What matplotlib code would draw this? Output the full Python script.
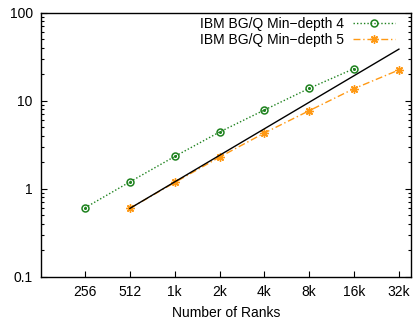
import numpy as np
import matplotlib
matplotlib.use('Agg')
import matplotlib.pyplot as plt
from matplotlib.ticker import FixedLocator, LogLocator, NullFormatter

plt.rcParams['font.family'] = ['Liberation Sans', 'DejaVu Sans']
plt.rcParams['font.size'] = 10

ranks = [256, 512, 1024, 2048, 4096, 8192, 16384, 32768]
tick_labels = ['256', '512', '1k', '2k', '4k', '8k', '16k', '32k']

ranks_d4 = [256, 512, 1024, 2048, 4096, 8192, 16384]
time_d4 = [0.61, 1.2, 2.33, 4.41, 7.84, 13.8, 23.1]

ranks_d5 = [512, 1024, 2048, 4096, 8192, 16384, 32768]
time_d5 = [0.60, 1.18, 2.29, 4.3, 7.7, 13.7, 22.3]

ideal_ranks = [512, 32768]
ideal_time = [0.6, 38.4]

green = '#1e821e'
orange = '#ff9914'

fig = plt.figure(figsize=(4.14, 3.2), dpi=100)
ax = fig.add_axes([41/414, 1-277/320, 370/414, 264.5/320])

l1, = ax.plot(ranks_d4, time_d4, color=green, linestyle=(0, (1, 1.5)), lw=1.0,
              marker='o', ms=5, mfc='none', mec=green, mew=1.1,
              label='IBM BG/Q Min\u2212depth 4')
ax.plot(ranks_d4, time_d4, linestyle='none', marker='o', ms=1.2, color=green)
l2, = ax.plot(ranks_d5, time_d5, color=orange, linestyle=(0, (5, 2, 1, 2)), lw=1.0,
              marker=(8, 2, 0), ms=6, mec=orange, mew=1.0,
              label='IBM BG/Q Min\u2212depth 5')
ax.plot(ideal_ranks, ideal_time, color='black', lw=1.0)

ax.set_xscale('log', base=2)
ax.set_yscale('log')
ax.set_xlim(129.5, 39500)
ax.set_ylim(0.1, 100)

ax.xaxis.set_major_locator(FixedLocator(ranks))
ax.set_xticklabels(tick_labels)
ax.xaxis.set_minor_locator(FixedLocator([]))
ax.set_yticks([0.1, 1, 10, 100])
ax.set_yticklabels(['0.1', '1', '10', '100'])
ax.yaxis.set_minor_locator(LogLocator(base=10, subs=np.arange(2, 10)))
ax.yaxis.set_minor_formatter(NullFormatter())

ax.tick_params(axis='both', which='major', direction='in', length=4, width=0.8,
               labelsize=10, pad=6)
ax.tick_params(axis='y', which='both', right=True)
ax.tick_params(axis='y', which='minor', direction='in', length=2, width=0.8)
ax.tick_params(axis='x', which='both', top=False)
for s in ax.spines.values():
    s.set_linewidth(1.0)

ax.set_xlabel('Number of Ranks', fontsize=10, labelpad=5)

ax.legend(handles=[l1, l2], loc='upper right', bbox_to_anchor=(0.957, 0.983),
          frameon=False, markerfirst=False, borderpad=0, borderaxespad=0,
          handlelength=3.0, handletextpad=0.65, labelspacing=0.15,
          fontsize=10, numpoints=1)

fig.savefig('out.png', dpi=100)
